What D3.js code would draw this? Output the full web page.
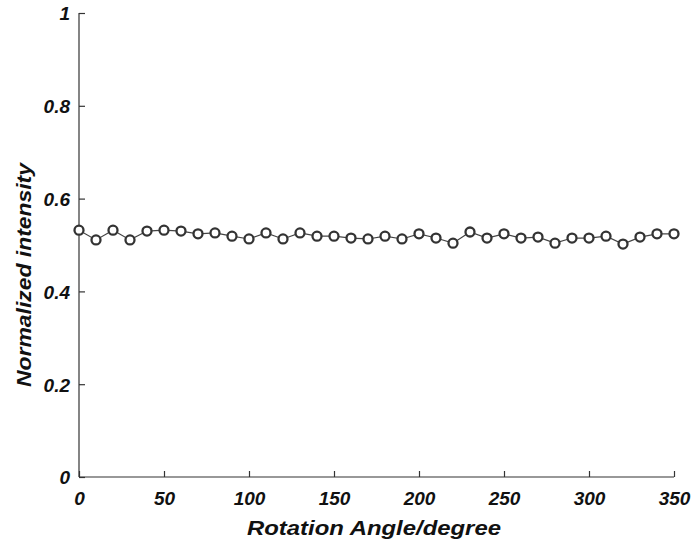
<!DOCTYPE html>
<html>
<head>
<meta charset="utf-8">
<script src="https://cdn.jsdelivr.net/npm/d3@7"></script>
<style>
  body { margin: 0; background: #fff; }
  text { font-family: "Liberation Sans", Arial, sans-serif; font-weight: bold; font-style: italic; fill: #111; }
</style>
</head>
<body>
<svg width="692" height="552"></svg>
<script>
// rotation angle (degree)
var angles = [0, 10, 20, 30, 40, 50, 60, 70, 80, 90, 100, 110, 120, 130, 140, 150, 160, 170,
              180, 190, 200, 210, 220, 230, 240, 250, 260, 270, 280, 290, 300, 310, 320, 330, 340, 350];
// normalized intensity
var intensity = [0.532, 0.511, 0.532, 0.511, 0.530, 0.532, 0.530, 0.524, 0.526, 0.519, 0.513, 0.526,
                 0.513, 0.526, 0.519, 0.519, 0.515, 0.513, 0.519, 0.513, 0.524, 0.515, 0.504, 0.528,
                 0.515, 0.524, 0.515, 0.517, 0.504, 0.515, 0.515, 0.519, 0.502, 0.517, 0.524, 0.524];
var xTicks = [0, 50, 100, 150, 200, 250, 300, 350];
var yTicks = [0, 0.2, 0.4, 0.6, 0.8, 1];

var svg = d3.select("svg"),
    margin = {top: 13, right: 18, bottom: 75, left: 79},
    width = +svg.attr("width") - margin.left - margin.right,
    height = +svg.attr("height") - margin.top - margin.bottom,
    g = svg.append("g").attr("transform", "translate(" + margin.left + "," + margin.top + ")");

var x = d3.scaleLinear().domain([0, 350]).range([0, width]);
var y = d3.scaleLinear().domain([0, 1]).range([height, 0]);

var fmt = function(d) { return d === 0 || d === 1 ? String(d) : d3.format(".1f")(d); };

// axes, ticks pointing inward
var xAxis = d3.axisBottom(x).tickValues(xTicks).tickSize(-6).tickPadding(15).tickFormat(d3.format("d"));
var yAxis = d3.axisLeft(y).tickValues(yTicks).tickSize(-6).tickPadding(9).tickFormat(fmt);

function styleAxis(a) {
  a.select(".domain").attr("stroke", "#333").attr("stroke-width", 1.2);
  a.selectAll(".tick line").attr("stroke", "#333").attr("stroke-width", 1.2);
  a.selectAll(".tick text").attr("font-size", 19).attr("fill", "#111")
    .attr("font-family", null);
}

g.append("g")
  .attr("transform", "translate(0," + height + ")")
  .call(xAxis)
  .call(function(a) {
    a.select(".domain").attr("d", "M0,0H" + width);
    styleAxis(a);
  });

g.append("g")
  .call(yAxis)
  .call(function(a) {
    a.select(".domain").attr("d", "M0,0V" + height);
    styleAxis(a);
    a.selectAll(".tick text").attr("dy", "0.36em");
  });

// connecting line
var pts = angles.map(function(a, i) { return [a, intensity[i]]; });
g.append("path")
  .datum(pts)
  .attr("fill", "none")
  .attr("stroke", "#444")
  .attr("stroke-width", 1.2)
  .attr("d", d3.line().x(function(d) { return x(d[0]); }).y(function(d) { return y(d[1]); }));

// open circle markers
g.selectAll("circle.pt")
  .data(pts)
  .enter().append("circle")
  .attr("class", "pt")
  .attr("cx", function(d) { return x(d[0]); })
  .attr("cy", function(d) { return y(d[1]); })
  .attr("r", 4.5)
  .attr("fill", "#fff")
  .attr("stroke", "#333")
  .attr("stroke-width", 2.3);

// axis titles
svg.append("text")
  .attr("x", 374).attr("y", 535)
  .attr("text-anchor", "middle")
  .attr("font-size", 21)
  .attr("textLength", 254).attr("lengthAdjust", "spacingAndGlyphs")
  .text("Rotation Angle/degree");

svg.append("text")
  .attr("transform", "translate(31,275) rotate(-90)")
  .attr("text-anchor", "middle")
  .attr("font-size", 21)
  .attr("textLength", 224).attr("lengthAdjust", "spacingAndGlyphs")
  .text("Normalized intensity");
</script>
</body>
</html>
